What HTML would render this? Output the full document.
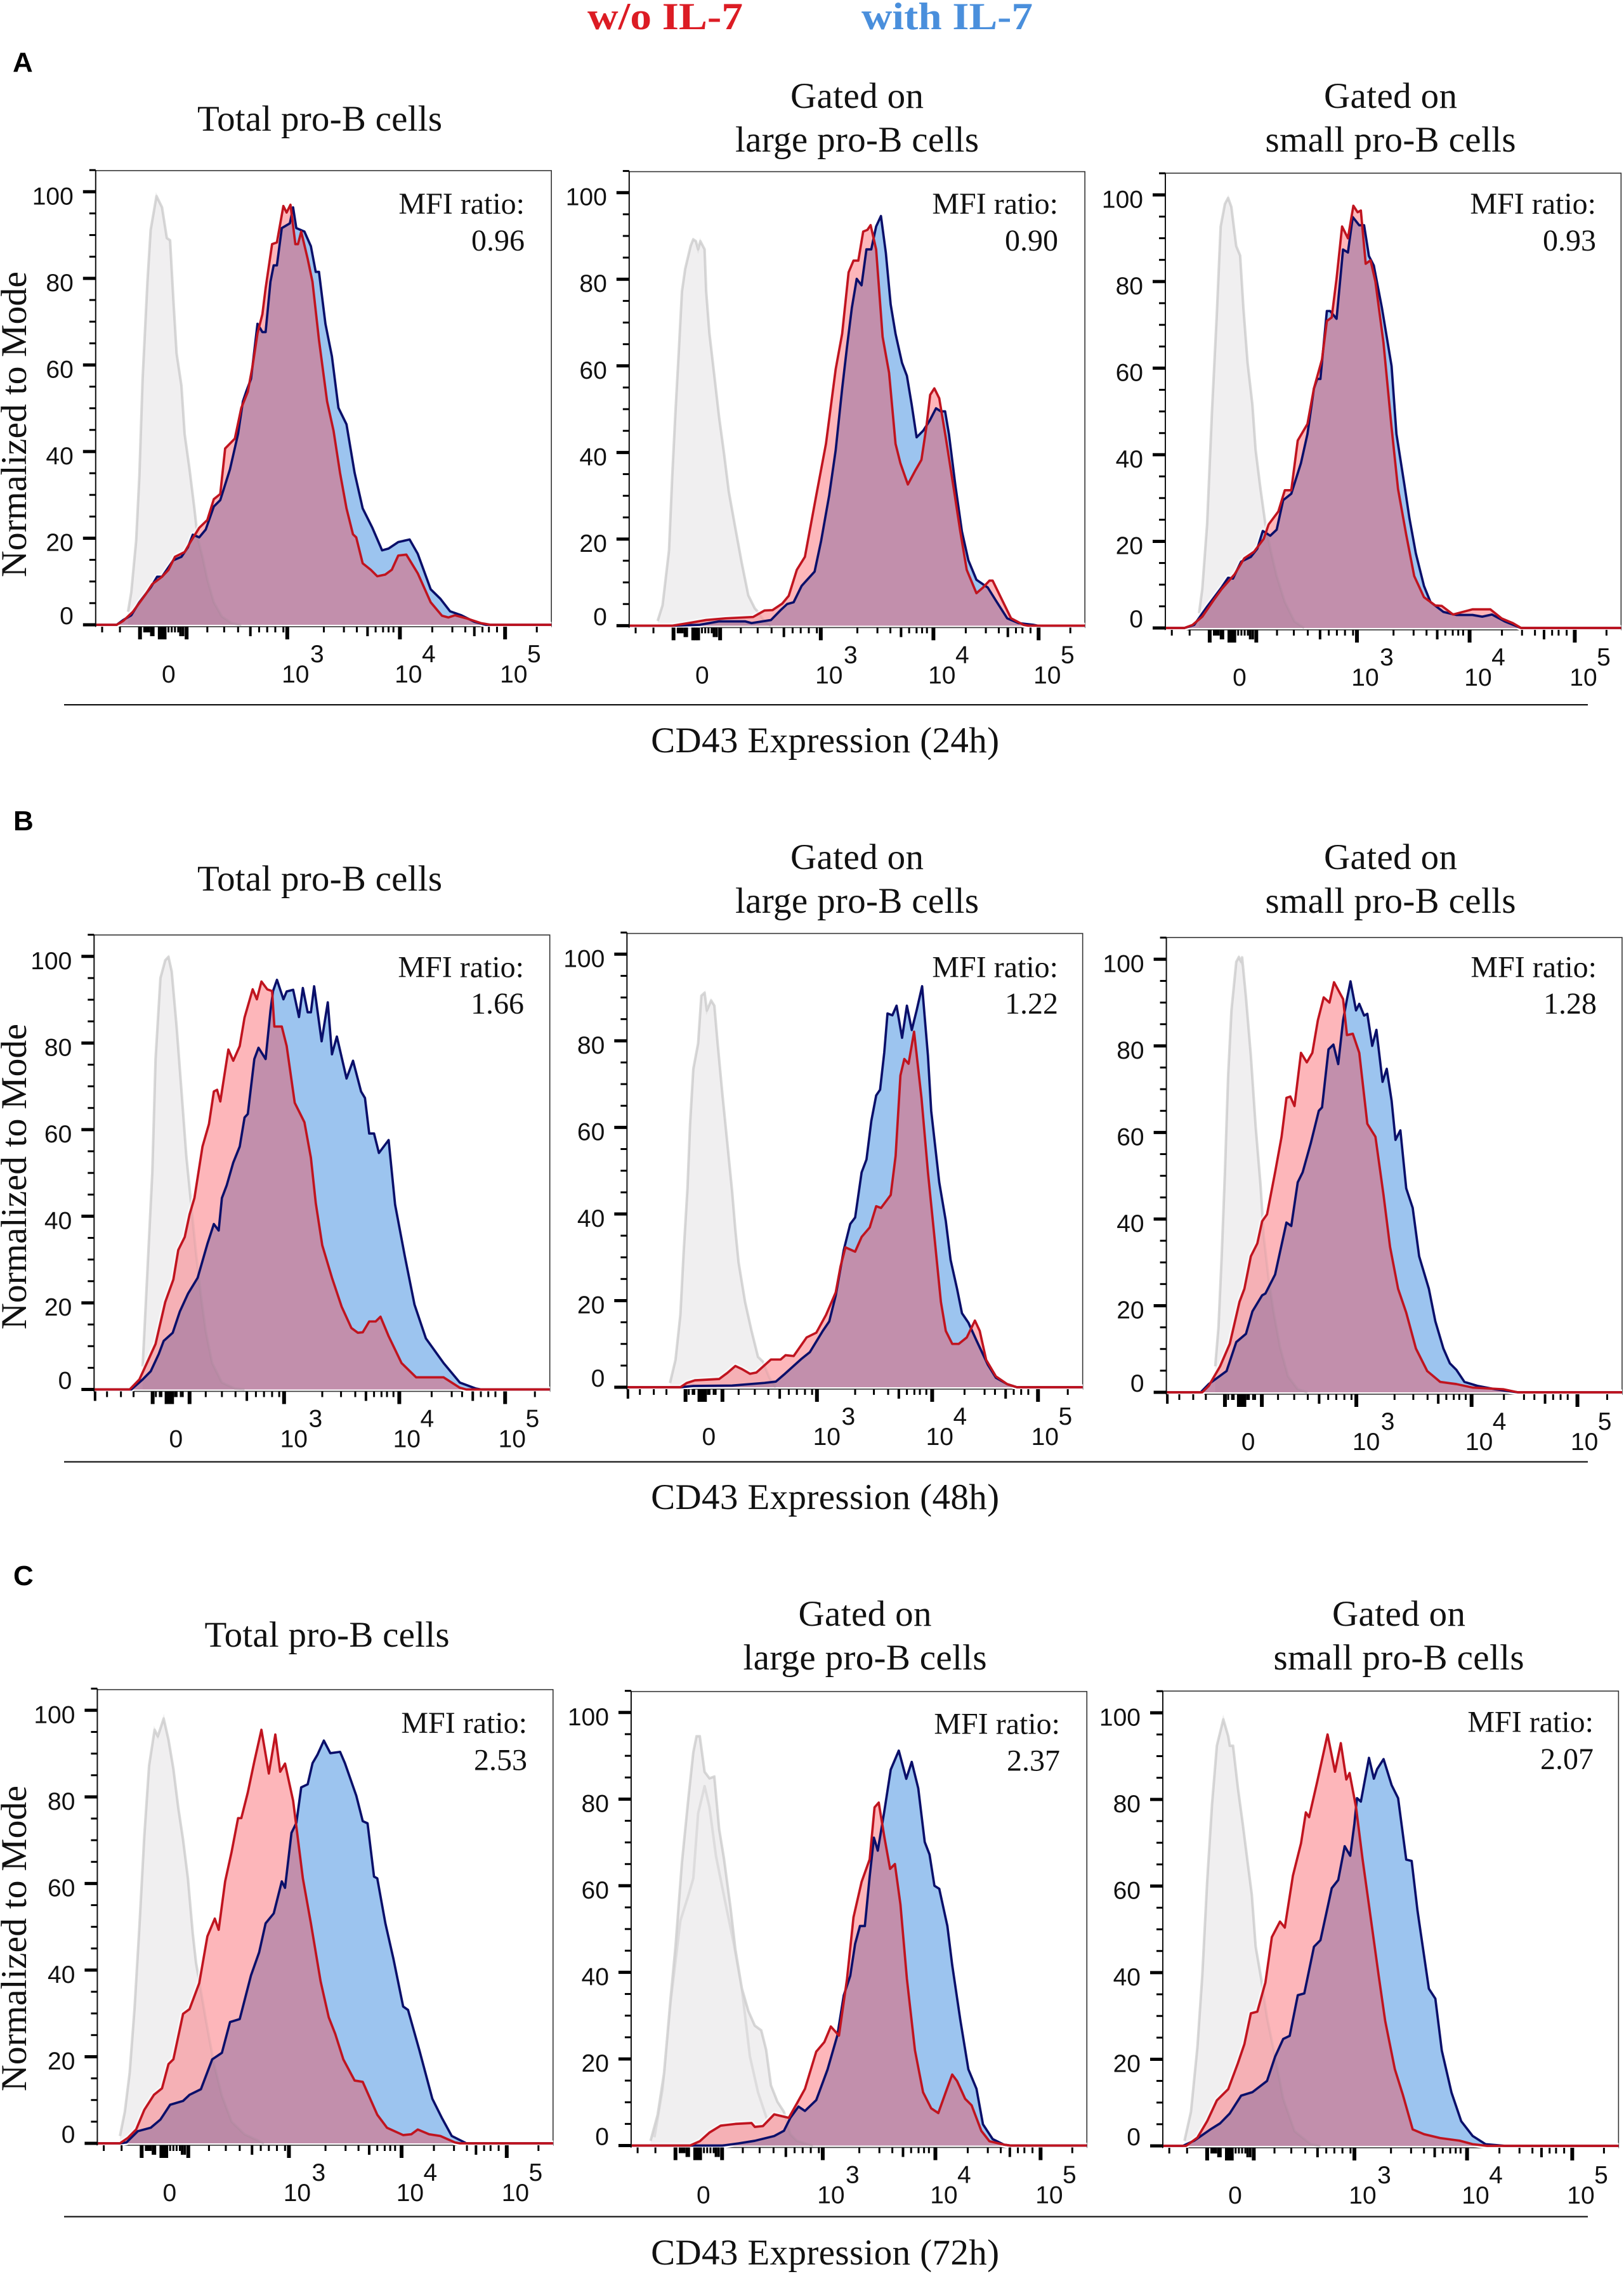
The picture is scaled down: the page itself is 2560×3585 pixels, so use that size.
<!DOCTYPE html>
<html lang="en">
<head>
<meta charset="utf-8">
<title>CD43 expression histograms</title>
<style>
html,body{margin:0;padding:0;background:#fff;}
svg{display:block;}
.serif{font-family:"Liberation Serif",serif;fill:#111;}
.sans{font-family:"Liberation Sans",sans-serif;fill:#111;}
.title{font-size:57px;text-anchor:middle;}
.mfi{font-size:48px;text-anchor:end;}
.ylab{font-size:57px;text-anchor:middle;}
.xlab{font-size:57px;text-anchor:middle;}
.letter{font-size:44px;font-weight:bold;fill:#000;}
.legend{font-size:60px;font-weight:bold;}
</style>
</head>
<body>
<svg id="figure" xmlns="http://www.w3.org/2000/svg" width="2560" height="3585" viewBox="0 0 2560 3585">
<rect x="0" y="0" width="2560" height="3585" fill="#fff"/>
<text class="serif legend" x="926" y="46" textLength="245" lengthAdjust="spacingAndGlyphs" style="fill:#dc1c24">w/o IL-7</text>
<text class="serif legend" x="1358" y="46" textLength="270" lengthAdjust="spacingAndGlyphs" style="fill:#4a8fdc">with IL-7</text>

<text class="sans letter" x="20" y="113">A</text>
<text class="sans letter" x="21" y="1309">B</text>
<text class="sans letter" x="21" y="2499">C</text>

<text class="serif title" x="504" y="206" textLength="386">Total pro-B cells</text>
<text class="serif title" x="1351" y="170" textLength="210">Gated on</text>
<text class="serif title" x="1351" y="239" textLength="384">large pro-B cells</text>
<text class="serif title" x="2192" y="170" textLength="210">Gated on</text>
<text class="serif title" x="2192" y="239" textLength="395">small pro-B cells</text>

<text class="serif title" x="504" y="1404" textLength="386">Total pro-B cells</text>
<text class="serif title" x="1351" y="1370" textLength="210">Gated on</text>
<text class="serif title" x="1351" y="1439" textLength="384">large pro-B cells</text>
<text class="serif title" x="2192" y="1370" textLength="210">Gated on</text>
<text class="serif title" x="2192" y="1439" textLength="395">small pro-B cells</text>

<text class="serif title" x="515.5" y="2596" textLength="386">Total pro-B cells</text>
<text class="serif title" x="1363.5" y="2563" textLength="210">Gated on</text>
<text class="serif title" x="1363.5" y="2632" textLength="384">large pro-B cells</text>
<text class="serif title" x="2205" y="2563" textLength="210">Gated on</text>
<text class="serif title" x="2205" y="2632" textLength="395">small pro-B cells</text>

<text class="serif ylab" transform="translate(41 669) rotate(-90)" textLength="482" lengthAdjust="spacingAndGlyphs">Normalized to Mode</text>
<text class="serif ylab" transform="translate(41 1855) rotate(-90)" textLength="482" lengthAdjust="spacingAndGlyphs">Normalized to Mode</text>
<text class="serif ylab" transform="translate(41 3056) rotate(-90)" textLength="482" lengthAdjust="spacingAndGlyphs">Normalized to Mode</text>

<rect x="101" y="1110" width="2402" height="2.2" fill="#111"/>
<rect x="101" y="2303.5" width="2402" height="2.2" fill="#111"/>
<rect x="101" y="3493.5" width="2402" height="2.2" fill="#111"/>

<text class="serif xlab" x="1300.6" y="1186" textLength="549">CD43 Expression (24h)</text>
<text class="serif xlab" x="1300.6" y="2379" textLength="549">CD43 Expression (48h)</text>
<text class="serif xlab" x="1300.6" y="3570" textLength="549">CD43 Expression (72h)</text>

<g id="plots"></g>

<g>
<text class="serif mfi" x="827" y="337">MFI ratio:</text>
<text class="serif mfi" x="827" y="395">0.96</text>
<text class="serif mfi" x="1668" y="337">MFI ratio:</text>
<text class="serif mfi" x="1668" y="395">0.90</text>
<text class="serif mfi" x="2516" y="337">MFI ratio:</text>
<text class="serif mfi" x="2516" y="395">0.93</text>
<text class="serif mfi" x="826" y="1540.5">MFI ratio:</text>
<text class="serif mfi" x="826" y="1598">1.66</text>
<text class="serif mfi" x="1668" y="1540.5">MFI ratio:</text>
<text class="serif mfi" x="1668" y="1598">1.22</text>
<text class="serif mfi" x="2517" y="1540.5">MFI ratio:</text>
<text class="serif mfi" x="2517" y="1598">1.28</text>
<text class="serif mfi" x="831" y="2732">MFI ratio:</text>
<text class="serif mfi" x="831" y="2790.7">2.53</text>
<text class="serif mfi" x="1671" y="2733.6">MFI ratio:</text>
<text class="serif mfi" x="1671" y="2791.7">2.37</text>
<text class="serif mfi" x="2512" y="2730.5">MFI ratio:</text>
<text class="serif mfi" x="2512" y="2789">2.07</text>
</g>
</svg>

<script>
/* Histogram series: channel position (0-1408 across the axis) and percent of mode */
const a1GreyCh=[100,110,125,135,145,160,170,188,205,220,230,240,250,265,275,290,305,315,330,345,365,390,420,450];
const a1GreyPct=[3,7.5,19.4,34.4,56.8,79.2,91.2,99,96.4,89.3,88.8,75.3,62.6,55.2,44,35.9,26.9,20.2,15.7,10.5,5.2,1.9,.4,0];
const a1BlueCh=[65,85,110,135,170,190,205,240,265,285,300,320,340,365,385,415,440,455,465,480,500,515,525,540,550,560,575,600,610,620,645,665,680,690,710,730,750,775,800,825,855,885,905,935,970,995,1035,1065,1095,1130,1170,1205];
const a1BluePct=[0,1.1,2.2,5.2,8.6,11.1,11.1,14.9,15.7,17.9,20.8,20.2,22,27.3,28.8,35.9,44.1,51.6,53.8,56.8,69.5,67.6,67.6,79.2,83,83,91.6,92.7,96.4,91.6,90.8,87.4,81.5,81.5,69.5,62,50.1,46.3,35.1,26.9,22.4,17.2,17.6,19.1,19.7,16.4,8.2,6,3.1,2.2,.7,0];
const a1RedCh=[65,85,115,155,175,205,225,245,275,295,320,345,365,385,400,430,450,470,485,500,515,525,545,560,580,590,602,617,625,635,655,670,690,715,735,755,775,795,805,825,850,870,895,915,935,960,995,1035,1070,1090,1110,1145,1190,1220];
const a1RedPct=[0,.9,3,7.1,9.4,11.1,12.7,15.7,16.8,19.4,22.4,24.2,29,30.2,40.7,43,50.1,53.8,59.8,67.3,71.7,77.7,87.9,88.3,96.7,95.2,97,87.9,87.9,90.8,84.5,79.2,65.8,51.6,44.8,35.1,26.9,20.9,20.2,14.2,12.7,11.2,11.6,12.7,16,16.2,11.9,5.2,2.1,1.7,2.2,1.5,.4,0];

const a2GreyCh=[88,103,123,133,143,153,163,173,190,198,206,213,220,233,238,248,263,278,293,308,328,348,368,388,398,418,438];
const a2GreyPct=[1.1,4.7,17.4,34.6,49.5,63,77.2,82.4,87.7,89.2,88.8,86.9,88.8,86.9,77.2,67.5,57.8,48.1,39.8,30.9,22.6,14.4,7,4,3.2,1,0];
const a2BlueCh=[133,218,278,358,378,438,468,488,508,533,573,593,618,638,658,673,688,703,718,733,748,763,778,793,808,823,843,858,873,888,908,928,948,963,976,988,1008,1028,1048,1073,1108,1133,1168,1203,1248,1263];
const a2BluePct=[0,.2,1,1,.6,1.3,3.6,5,5.4,9.2,12.5,19.6,30.1,40.5,54.7,64.4,73.4,80.1,78.6,86.9,86.9,92.2,94.6,86.1,74.2,67.4,60.7,57.7,51,43.5,45,47.3,50.2,49.5,49.5,44.2,32.3,21.8,15.1,10.6,8.8,5.8,1.7,.6,.2,0];
const a2RedCh=[133,183,238,298,383,418,443,473,493,518,543,578,608,638,658,678,693,708,723,736,746,763,783,803,823,838,861,883,903,918,930,943,958,978,1003,1023,1043,1073,1093,1113,1123,1153,1180,1218,1233];
const a2RedPct=[0,.6,1.3,1.7,2,3.5,3.6,5.1,6.9,12.9,15.9,30.1,42,59.2,67.4,81.6,84.3,84.3,91,91.4,92.5,86.9,66.7,58.4,42,37.5,32.6,35.7,38.3,45.8,53.3,54.8,52.5,43.5,31.6,21.8,12.9,7.5,8.8,10.4,10.4,5.8,1.7,.2,0];

const a3GreyCh=[104,114,129,144,159,171,184,194,204,219,231,241,254,269,279,294,309,324,344,369,399,429];
const a3GreyPct=[3.4,9,23.9,50,72.4,92.7,97.9,99.3,97.2,88.2,86,74,61.3,51.6,41.1,32.1,24,18.4,12,6,1.5,0];
const a3BlueCh=[59,89,129,174,194,209,234,264,284,301,324,344,364,389,419,439,459,469,479,499,509,529,549,564,579,599,614,629,644,669,699,714,739,754,774,799,819,859,899,949,979,1009,1049,1099];
const a3BluePct=[0,.7,4.9,9.4,11.6,11.4,15.3,16.4,18.3,22.4,21.3,22.7,29.5,31,38.1,44.8,55.3,57.5,57.5,73.2,73.2,71.4,87.4,86.7,94.9,93,93,85.9,83.7,74,60.5,44.8,32.9,25.4,17.2,9.7,6,3.7,3,3,2.6,3.1,1.5,0];
const a3RedCh=[59,84,114,149,174,214,244,274,304,319,349,369,389,409,439,459,484,499,514,529,546,564,581,594,604,619,634,649,674,699,719,744,769,799,834,854,889,914,949,1004,1039,1074,1099];
const a3RedPct=[0,.7,2.6,6.4,9,12.4,16.1,17.6,20.6,23.9,26.9,31.8,31.8,43.3,47.1,55.3,62,70.9,71.7,80.7,92.7,90,97.5,96,96.4,84.1,84.9,80,65.8,46.3,32.1,21.6,12,7.1,5.2,5.1,3.1,3.6,4.3,4.3,2.2,1.1,0];

const b1GreyCh=[150,165,180,190,205,220,230,240,255,270,285,300,315,330,345,365,395,435,465];
const b1GreyPct=[5.3,27.7,50.2,76.3,95,99.1,99.9,96.5,83.8,68.9,53.9,42.7,31.5,21.7,13.5,6.1,1.6,.2,0];
const b1BlueCh=[115,150,175,200,215,243,265,290,320,350,370,385,395,410,430,450,465,475,495,508,530,545,553,565,585,595,615,633,645,660,670,680,703,722,735,750,780,800,825,837,850,865,880,910,930,960,990,1025,1080,1130,1180,1195];
const b1BluePct=[0,2.3,4.2,8.2,11.2,13.1,18,22.1,25.8,33.6,38.2,36.7,44.2,47.2,52.4,56.1,62.8,63.6,76.3,78.9,76.3,87.5,92,94.6,90.1,91.9,92.3,86,92.7,87.1,87.1,93.1,80.4,89.4,77.4,81.5,71.8,75.9,68.8,67.3,59.1,59.1,54.6,57.6,42.7,30.8,19.6,11.8,6.1,1.6,.2,0];
const b1RedCh=[110,140,165,190,220,245,260,280,295,310,335,355,370,380,390,415,430,450,465,490,503,517,535,550,557,580,595,620,640,650,670,685,705,735,765,795,815,830,850,870,885,910,950,995,1080,1130,1150];
const b1RedPct=[0,2.3,6.4,10.5,20.2,25.4,32.2,35.2,40.4,44.2,56.1,61.3,68.8,69.2,66.5,78.5,75.9,79.3,85.9,92.4,90.1,94.2,92.4,92,83.8,83.8,79.3,66.2,63.2,61.7,53.5,43,33.3,25.8,19.1,14.2,13.1,13.2,15.7,15.7,16.8,12.3,6.1,2.8,2.8,.4,0];

const b2GreyCh=[133,150,165,175,187,195,205,220,230,240,247,260,270,280,295,310,325,335,345,365,385,405,420,440,460];
const b2GreyPct=[1,6.3,16.7,31,45.9,60.8,73.5,79.4,90.4,91.1,87,89.3,88.1,79.5,67.6,56.4,45.2,36.3,28.8,19.7,13,7,5.9,2.2,0];
const b2BlueCh=[165,205,325,425,460,485,540,565,605,625,645,670,690,705,725,740,755,770,782,795,805,820,833,850,865,880,895,912,930,940,965,985,1000,1020,1035,1055,1080,1115,1140,1175,1205];
const b2BluePct=[0,.3,.4,1,1.3,2.9,6.6,8.1,13,15.2,21.2,31.7,37.7,39.2,49.6,52.6,61.5,67.4,68.7,77.3,86.3,85.9,88.1,80.7,88.1,82.5,87,92.6,76.5,63.8,47.3,38.4,29.4,22.7,17.1,14.9,10.8,5.2,2.2,.7,0];
const b2RedCh=[165,185,210,285,310,335,355,380,400,445,475,490,515,555,585,615,645,660,675,705,725,750,770,785,815,830,845,857,870,887,910,930,950,970,985,1005,1025,1050,1075,1090,1110,1140,1175,1205];
const b2RedPct=[0,1,1.6,1.9,3.3,4.9,4.2,3.1,3.4,6.4,6.4,7.4,7.2,11.5,12.6,16.7,21.9,27.9,32.3,31.3,34.7,36.9,41.8,41.4,44.4,53.4,72,75.8,74.7,82.1,66.8,49.6,34.7,19.7,13,10,10,11.5,15.4,13,6.3,2.5,.7,0];

const b3GreyCh=[151,161,171,181,191,201,216,224,231,234,246,261,276,291,301,316,331,351,376,406,436];
const b3GreyPct=[6,14.9,31.4,50.8,73.2,88.2,99.4,100.5,99.4,100.5,91.2,77.7,61.3,47.8,35.9,26.2,18.7,10.5,3.7,.7,0];
const b3BlueCh=[106,131,186,216,246,266,296,306,336,371,386,406,421,446,471,481,501,516,531,546,558,569,586,596,611,621,636,649,668,681,696,708,723,741,761,781,811,831,856,876,896,921,961,1016,1086];
const b3BluePct=[0,1.9,4.9,11.6,13.5,18.7,22.4,22.8,27.2,39.2,38.4,48.5,50.8,57.5,65,65.8,79.2,80.3,75.8,85.9,90.8,94.9,88.2,89.7,87,87.4,80,83.7,71.7,74.7,67.3,58.3,60.5,47.1,42.6,31.4,23.9,16.4,10.1,6.7,5.2,2.4,1.5,.7,0];
const b3RedCh=[111,131,166,196,226,241,261,281,296,311,336,356,371,383,396,416,434,451,468,486,504,518,546,558,576,596,621,646,671,691,716,741,771,806,846,896,946,1041,1086];
const b3RedPct=[0,1.5,6,11.2,20.9,23.9,31.4,34.4,39.5,41.1,50.8,59,68,68.3,66.1,78.4,76.2,78.4,85.9,91.2,90,94.7,90.8,82.5,82.8,78.4,62,59,45.6,33.6,23.9,18.4,10.1,4.9,2.4,1.9,1.1,.7,0];

const c1GreyCh=[70,85,100,115,130,145,160,177,187,205,220,235,250,265,280,295,305,335,360,385,415,455,515];
const c1GreyPct=[1.7,7.3,16.3,31.2,49.9,70.8,87.2,95.5,94,98.1,93.2,86.5,77.5,70.1,61.1,48.4,41.7,28.7,18.5,11,5,2.1,0];
const c1BlueCh=[70,90,125,165,195,225,265,285,320,355,385,410,440,475,500,520,545,570,580,600,615,630,650,665,680,700,720,750,765,800,820,835,855,865,890,915,945,960,995,1035,1065,1095,1135,1140];
const c1BluePct=[0,.2,2.8,3.6,5.5,8.9,9.8,11.2,12.5,19.4,20.9,28,28.7,38.8,44.1,50.8,53.1,60.5,59,71.7,74,82.2,82.9,87.8,89.7,93,90.1,90.4,87.8,80.3,74.4,73.9,61.6,61.2,50.8,42.6,31.6,30.8,21.5,10.3,5.8,1.7,.2,0];
const c1RedCh=[70,95,120,145,175,200,220,235,265,285,315,340,363,375,395,415,435,445,465,485,507,530,550,565,580,605,615,635,660,690,715,735,760,795,820,865,895,945,970,990,1025,1060,1105,1120];
const c1RedPct=[0,1.3,3.2,7.7,11.2,12.7,18.3,19.4,29.9,31,37,47.8,51.9,49.3,60.5,67.3,75.1,75.1,81,88.1,95.5,85.4,94.4,85.8,87.7,79.1,73.1,61.2,50.8,37.4,29.1,25.3,19.4,14.5,14.2,6.6,3.6,1.9,2.1,3.2,2.1,1.7,.2,0];

const c2GreyCh=[60,82,102,122,137,157,177,192,202,212,227,242,257,272,287,307,322,342,362,382,402,417,432,452,472,492,512,562];
const c2GreyPct=[1.1,7.1,16.8,34,45.9,65.4,80.3,90.8,94.5,94.5,86.3,84.8,85.2,73,66.2,55,45.3,36.3,31.1,27.7,26.6,22.1,13.9,10.1,7.8,2.6,1.1,0];
const c2GreyInnerCh=[72,97,122,152,177,192,207,227,242,262,292,317,342,367,392,412,432,462];
const c2GreyInnerPct=[1.9,13,33.2,51.9,57.8,61.7,76.7,83,78.1,66.9,55.7,46.7,36.3,20.6,12.3,7.8,3.4,.7];
const c2BlueCh=[282,332,382,442,472,492,517,537,572,607,637,657,677,692,707,722,737,750,762,782,802,827,850,867,887,907,922,937,952,977,992,1017,1042,1067,1087,1117,1152,1172];
const c2BluePct=[0,.5,1.1,2.2,3.4,6.4,9,8,10.5,17.6,25.4,34.7,39.2,46.6,50.7,50.7,62.1,71.1,68.1,77.1,86.8,91.2,84.7,88.6,82.5,70.1,67.2,60,59.3,50.7,41.7,29,17.6,13.1,4.9,1.5,.2,0];
const c2RedCh=[182,212,242,277,322,372,382,407,442,487,512,537,572,597,617,642,667,687,712,737,752,765,782,800,815,832,852,877,902,927,949,972,992,1007,1032,1052,1082,1107,1152,1172];
const c2RedPct=[0,1,3,4.6,5,5.2,4.3,4.5,7.2,6.4,9.7,13.1,21.7,23.9,27.5,25.4,38.5,52.7,60.9,66.1,78.1,79.2,71.4,63.9,65,55.7,38.5,22,12.3,8.6,7.5,12.3,16.4,14.9,10.8,9.3,3.4,1,.2,0];

const c3GreyCh=[67,87,107,122,137,152,167,187,202,207,217,232,247,262,275,287,304,322,347,372,407,457,487];
const c3GreyPct=[1.2,7.9,22.9,39.3,61,78.9,92.4,98.5,94.6,92.4,92.4,82.6,74.4,65.5,58,46,38.6,29.6,20.6,10.9,3.4,.4,0];
const c3BlueCh=[62,97,147,177,207,242,277,322,347,372,392,417,437,467,487,522,542,562,579,592,600,612,637,652,662,682,707,727,752,769,787,822,842,862,892,922,957,997,1057];
const c3BluePct=[0,1.2,3.8,5.2,7.5,11.6,12.4,15,20.6,24.7,25.4,34.8,35.2,46,47.5,59.5,61.4,69.2,67,74.4,80.3,79.5,89.6,84.8,87,89.3,83.3,80.3,66.1,65.8,54.3,36.3,34,22,12.3,5.7,2.3,.4,0];
const c3RedCh=[72,107,137,167,202,232,252,272,292,317,337,362,377,402,427,442,452,477,509,532,550,567,577,597,617,642,667,687,717,742,772,807,857,917,957,1002];
const c3RedPct=[0,1.9,5.7,10.5,13.1,19.1,23.5,30.6,31,37.7,48.2,51.8,50.4,62.4,69.9,77,75.9,84.1,95,86.4,93,84.6,86.1,78.2,66.3,52.8,39.3,28.9,17.7,11.7,3.8,2.7,1.8,1.2,.4,0];

/* Axis ticks */
const yMajorTicks=[0,20,40,60,80,100];
const yMinorTicks=[5,10,15,25,30,35,45,50,55,65,70,75,85,90,95,105];
const yTickLabels=["0","20","40","60","80","100"];
const xDecadeBases=["10","10","10"];
const xDecadeExponents=["3","4","5"];
const xMinorTicksStd=[20,75,150,155,160,165,225,235,245,255,345,397,440,505,530,555,580,705,767,807,865,888,905,920,1040,1102,1142,1195,1215,1240,1363];
const xMidTicksStd=[172,178,262,270,478,840,1170];
const xMajorTicksStd=[137,198,205,213,281,592,940,1265];
const xMinorTicksAlt=[40,83,122,191,203,208,250,255,268,274,345,395,437,500,525,550,572,705,763,807,865,888,905,925,1043,1105,1137,1195,1218,1240,1362];
const xMidTicksAlt=[3,472,840,1170];
const xMajorTicksAlt=[181,224,232,241,295,587,943,1270];

const CH_PER_PX=1.96;
const AXIS_CHANNELS=1408;
const PX_PER_PCT=6.827;
const svgNS='http://www.w3.org/2000/svg';
const plots=document.getElementById('plots');

const panelConfigs=[
 {id:'a-total',left:150.8,top:269,base:985,alt:false,zero:115,gc:a1GreyCh,gp:a1GreyPct,bc:a1BlueCh,bp:a1BluePct,rc:a1RedCh,rp:a1RedPct},
 {id:'a-large',left:991.8,top:270.6,base:986.4,alt:false,zero:115,gc:a2GreyCh,gp:a2GreyPct,bc:a2BlueCh,bp:a2BluePct,rc:a2RedCh,rp:a2RedPct},
 {id:'a-small',left:1837,top:273,base:990,alt:false,zero:117,gc:a3GreyCh,gp:a3GreyPct,bc:a3BlueCh,bp:a3BluePct,rc:a3RedCh,rp:a3RedPct},
 {id:'b-total',left:148.3,top:1474,base:2190.5,alt:true,zero:129,gc:b1GreyCh,gp:b1GreyPct,bc:b1BlueCh,bp:b1BluePct,rc:b1RedCh,rp:b1RedPct},
 {id:'b-large',left:988.3,top:1471.6,base:2187,alt:true,zero:129,gc:b2GreyCh,gp:b2GreyPct,bc:b2BlueCh,bp:b2BluePct,rc:b2RedCh,rp:b2RedPct},
 {id:'b-small',left:1838.6,top:1478,base:2195,alt:true,zero:129,gc:b3GreyCh,gp:b3GreyPct,bc:b3BlueCh,bp:b3BluePct,rc:b3RedCh,rp:b3RedPct},
 {id:'c-total',left:153.4,top:2663.7,base:3379,alt:false,zero:114,gc:c1GreyCh,gp:c1GreyPct,bc:c1BlueCh,bp:c1BluePct,rc:c1RedCh,rp:c1RedPct},
 {id:'c-large',left:994.9,top:2666.7,base:3382.5,alt:false,zero:114,gc:c2GreyCh,gp:c2GreyPct,bc:c2BlueCh,bp:c2BluePct,rc:c2RedCh,rp:c2RedPct,gic:c2GreyInnerCh,gip:c2GreyInnerPct},
 {id:'c-small',left:1833,top:2666,base:3383,alt:false,zero:114,gc:c3GreyCh,gp:c3GreyPct,bc:c3BlueCh,bp:c3BluePct,rc:c3RedCh,rp:c3RedPct}
];

function make(parent,tag,attrs,text){
  const el=document.createElementNS(svgNS,tag);
  for(const k in attrs){el.setAttribute(k,attrs[k]);}
  if(text!==undefined){el.textContent=text;}
  parent.appendChild(el);
  return el;
}
function xScale(p,ch){return p.left+ch/CH_PER_PX;}
function yScale(p,pct){return p.base-pct*PX_PER_PCT;}
function points(p,chs,pcts){
  const n=Math.min(chs.length,pcts.length),out=[];
  for(let i=0;i<n;i++){out.push(xScale(p,chs[i]).toFixed(1)+' '+yScale(p,pcts[i]).toFixed(1));}
  return out;
}
/* Full histogram trace: baseline from axis start, the data, baseline to axis end */
function tracePath(p,chs,pcts){
  return 'M'+xScale(p,0).toFixed(1)+' '+yScale(p,0).toFixed(1)+'L'+points(p,chs,pcts).join('L')+'L'+xScale(p,AXIS_CHANNELS).toFixed(1)+' '+yScale(p,0).toFixed(1);
}
function openPath(p,chs,pcts){return 'M'+points(p,chs,pcts).join('L');}
function closedPath(p,chs,pcts){
  return 'M'+xScale(p,chs[0]).toFixed(1)+' '+yScale(p,0).toFixed(1)+'L'+points(p,chs,pcts).join('L')+'L'+xScale(p,chs[chs.length-1]).toFixed(1)+' '+yScale(p,0).toFixed(1)+'Z';
}

panelConfigs.forEach(function(p){
  const g=make(plots,'g',{});
  
  
  const right=xScale(p,AXIS_CHANNELS);

  const frame=make(g,'rect',{x:p.left,y:p.top,width:right-p.left,height:p.base+3-p.top,fill:'#fff',stroke:'#333','stroke-width':1.6});
  
  

  /* isotype control */
  const greyFill=make(g,'path',{d:closedPath(p,p.gc,p.gp),fill:'#f8f8f8'});
  
  
  const greyLine=make(g,'path',{d:openPath(p,p.gc,p.gp),fill:'none',stroke:'#e4e4e4','stroke-width':4,'stroke-linejoin':'round'});
  
  
  if(p.gic){
    const inner=make(g,'path',{d:openPath(p,p.gic,p.gip),fill:'none',stroke:'#e4e4e4','stroke-width':4,'stroke-linejoin':'round'});
    
    
  }

  const blueD=tracePath(p,p.bc,p.bp), redD=tracePath(p,p.rc,p.rp);

  /* white halo */
  const haloB=make(g,'path',{d:blueD,fill:'none',stroke:'#fff','stroke-width':9,'stroke-linejoin':'round'});
  
  
  const haloR=make(g,'path',{d:redD,fill:'none',stroke:'#fff','stroke-width':9,'stroke-linejoin':'round'});
  
  

  const blueFill=make(g,'path',{d:blueD+'Z',fill:'#9cc4ef'});
  
  
  const redFill=make(g,'path',{d:redD+'Z',fill:'#fdb6ba'});
  
  

  /* overlap of the two populations */
  const clip=make(g,'clipPath',{id:'clip-blue-'+p.id});
  make(clip,'path',{d:blueD+'Z'});
  const overlap=make(g,'path',{d:redD+'Z',fill:'#c28fac','clip-path':'url(#clip-blue-'+p.id+')'});
  
  

  /* control shows faintly through the coloured fills */
  const greyVeil=make(g,'path',{d:closedPath(p,p.gc,p.gp),fill:'rgba(70,50,70,0.045)'});
  
  
  const greyVeilLine=make(g,'path',{d:openPath(p,p.gc,p.gp),fill:'none',stroke:'rgba(130,130,130,0.12)','stroke-width':4});
  
  

  const blueLine=make(g,'path',{d:blueD,fill:'none',stroke:'#0a0f6a','stroke-width':3.7,'stroke-linejoin':'round'});
  
  
  const redLine=make(g,'path',{d:redD,fill:'none',stroke:'#c0141f','stroke-width':3.7,'stroke-linejoin':'round'});
  
  

  /* y axis */
  const spine=make(g,'line',{x1:p.left,x2:p.left,y1:yScale(p,105),y2:p.base+3,stroke:'#111','stroke-width':2});
  
  
  yMinorTicks.forEach(function(v){
    const t=make(g,'line',{x1:p.left-10,x2:p.left,y1:yScale(p,v),y2:yScale(p,v),stroke:'#000','stroke-width':3});
    
    
  });
  yMajorTicks.forEach(function(v,i){
    const t=make(g,'line',{x1:p.left-20,x2:p.left,y1:yScale(p,v),y2:yScale(p,v),stroke:'#000','stroke-width':5});
    
    
    const lbl=make(g,'text',{x:p.left-35,y:yScale(p,v)+(v===0?-1:20),'text-anchor':'end','font-size':39,'class':'sans'},yTickLabels[i]);
    
    
  });

  /* x axis */
  const minors=p.alt?xMinorTicksAlt:xMinorTicksStd;
  const mids=p.alt?xMidTicksAlt:xMidTicksStd;
  const majors=p.alt?xMajorTicksAlt:xMajorTicksStd;
  minors.forEach(function(c){
    const t=make(g,'line',{x1:xScale(p,c),x2:xScale(p,c),y1:p.base+3,y2:p.base+12,stroke:'#000','stroke-width':3});
    
    
  });
  mids.forEach(function(c){
    const t=make(g,'line',{x1:xScale(p,c),x2:xScale(p,c),y1:p.base+3,y2:p.base+18,stroke:'#000','stroke-width':4});
    
    
  });
  majors.forEach(function(c){
    const t=make(g,'line',{x1:xScale(p,c),x2:xScale(p,c),y1:p.base+3,y2:p.base+23,stroke:'#000','stroke-width':6});
    
    
  });

  const zeroLbl=make(g,'text',{x:p.left+p.zero,y:p.base+91,'text-anchor':'middle','font-size':39,'class':'sans'},'0');
  
  
  const baseOffsets=[315,493,659], expOffsets=[349,525,691];
  xDecadeBases.forEach(function(b,i){
    const lbl=make(g,'text',{x:p.left+baseOffsets[i],y:p.base+91,'text-anchor':'middle','font-size':39,'class':'sans'},b);
    
    
    const sup=make(g,'text',{x:p.left+expOffsets[i],y:p.base+59,'text-anchor':'middle','font-size':39,'class':'sans'},xDecadeExponents[i]);
    
    
  });
});
</script>
</body>
</html>
